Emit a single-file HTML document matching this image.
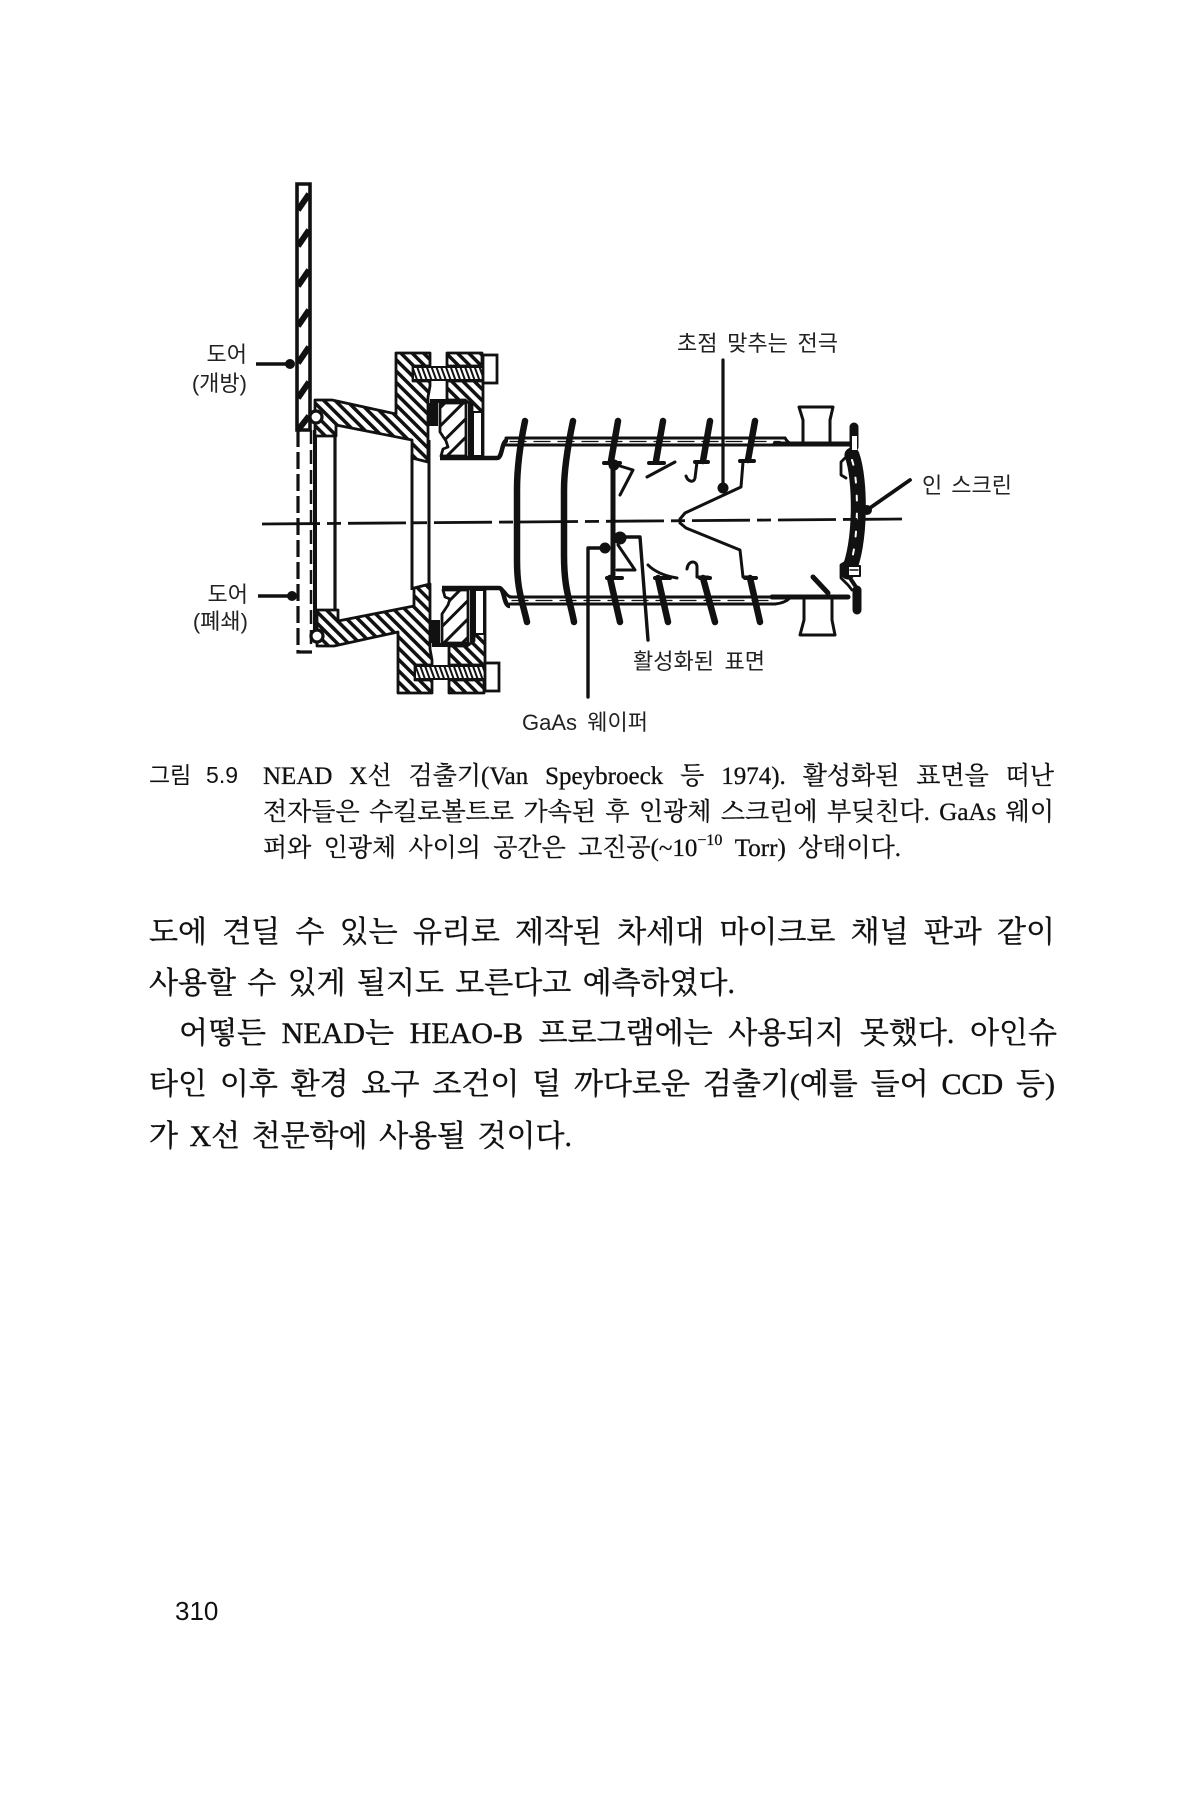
<!DOCTYPE html>
<html lang="ko"><head><meta charset="utf-8">
<style>
html,body{margin:0;padding:0;background:#fff;width:1200px;height:1800px;overflow:hidden}
body{position:relative;color:#111}
svg{position:absolute;left:0;top:0}
.t{position:absolute;text-align:justify;text-align-last:justify;white-space:normal;line-height:1}
.s{font-family:"Liberation Serif","Noto Serif CJK SC",serif}
.c{font-size:25px;left:263px;width:791px;height:26px;-webkit-text-stroke:.3px #111}
.b{font-size:30px;height:32px;-webkit-text-stroke:.4px #111}
.l{font-family:"Liberation Sans","Noto Sans CJK KR",sans-serif;font-size:22px;color:#222}
sup{font-size:16px;line-height:0;vertical-align:11px}
</style></head><body>
<svg width="1200" height="1800" viewBox="0 0 1200 1800" xmlns="http://www.w3.org/2000/svg">
<defs>
<pattern id="h" width="8" height="8" patternUnits="userSpaceOnUse" patternTransform="rotate(-45)"><rect width="3.6" height="8" fill="#111"/><rect x="3.6" width="4.4" height="8" fill="#fff"/></pattern>
<pattern id="hm" width="8" height="8" patternUnits="userSpaceOnUse" patternTransform="rotate(45)"><rect width="3.6" height="8" fill="#111"/><rect x="3.6" width="4.4" height="8" fill="#fff"/></pattern>
<pattern id="hb" width="13" height="13" patternUnits="userSpaceOnUse" patternTransform="rotate(45)"><rect width="3" height="13" fill="#111"/><rect x="3" width="10" height="13" fill="#fff"/></pattern>
<pattern id="hbm" width="13" height="13" patternUnits="userSpaceOnUse" patternTransform="rotate(-45)"><rect width="3" height="13" fill="#111"/><rect x="3" width="10" height="13" fill="#fff"/></pattern>
<pattern id="f" width="4.5" height="4.5" patternUnits="userSpaceOnUse" patternTransform="rotate(-20)"><rect width="2" height="5" fill="#111"/><rect x="2" width="2.5" height="5" fill="#fff"/></pattern>
<pattern id="fm" width="4.5" height="4.5" patternUnits="userSpaceOnUse" patternTransform="rotate(20)"><rect width="2" height="5" fill="#111"/><rect x="2" width="2.5" height="5" fill="#fff"/></pattern>

<g id="fh" stroke="#111" stroke-width="2.8" stroke-linejoin="round">
<path d="M315 400H332L396 414V353H430V366H413V381H430V386L428 397V462L412 458V440L336 425V436H315Z"/>
<path d="M447 353H482V366H447Z"/>
<path d="M447 381H483V456H472V405L465 400H447Z"/>
</g>
<g id="fb" stroke="#111" stroke-width="2.8" stroke-linejoin="round">
<path d="M440 403H466V456H441L443 449L448 447L446 441L440 432Z"/>
</g>
<g id="fbolt"><rect x="413" y="367" width="70" height="13" stroke="#111" stroke-width="2"/></g>
<g id="fk" fill="none" stroke="#111">
<rect x="483" y="355" width="14" height="28" fill="#fff" stroke-width="2.8"/>
<rect x="473" y="412" width="9" height="44" fill="#fff" stroke-width="2"/>
<path d="M430 401H466" stroke-width="4"/>
<rect x="428" y="403" width="10" height="23" fill="#111" stroke="none"/>
<path d="M440 458H497C503 458 501 440 508 440" stroke-width="4.5"/>
<path d="M470 403V457" stroke-width="4"/>
</g>
</defs>

<!-- door -->
<g fill="none" stroke="#111">
<path d="M297 184H310V430H297Z" stroke-width="3.6" fill="#fff"/>
<g stroke-width="6">
<path d="M298 210L309 194M298 246L309 230M298 286L309 270M298 326L309 310M298 363L309 347M298 398L309 382M298 430L309 416"/>
</g>
<path d="M298 430V652H312" stroke-width="3.2" stroke-dasharray="17 5"/>
<path d="M311 430V650" stroke-width="2.5" stroke-dasharray="14 6"/>
<path d="M315 430V640" stroke-width="4"/>
<path d="M335 425V632" stroke-width="3.2"/>
<path d="M412 455V590" stroke-width="3"/>
<path d="M429 440V590" stroke-width="3"/>
</g>

<!-- flange upper/lower -->
<use href="#fh" fill="url(#h)"/>
<use href="#fb" fill="url(#hb)"/>
<use href="#fbolt" fill="url(#f)"/>
<use href="#fk"/>
<use href="#fh" fill="url(#hm)" transform="translate(2,1046) scale(1,-1)"/>
<use href="#fb" fill="url(#hbm)" transform="translate(2,1046) scale(1,-1)"/>
<use href="#fbolt" fill="url(#fm)" transform="translate(2,1046) scale(1,-1)"/>
<use href="#fk" transform="translate(2,1046) scale(1,-1)"/>
<circle cx="316" cy="417" r="6" fill="#fff" stroke="#111" stroke-width="3.2"/>
<circle cx="317" cy="636" r="6" fill="#fff" stroke="#111" stroke-width="3.2"/>

<!-- tube -->
<g fill="none" stroke="#111" stroke-linecap="round" stroke-linejoin="round">
<path d="M506 438H785" stroke-width="3"/>
<path d="M506 445H775" stroke-width="3"/>
<path d="M510 441.5H780" stroke-width="1.2" stroke-dasharray="16 8"/>
<path d="M775 444H850" stroke-width="5"/>
<path d="M785 438Q788 443 792 444" stroke-width="3"/>
<path d="M510 597H775" stroke-width="3"/>
<path d="M510 604H775" stroke-width="3"/>
<path d="M512 600.5H775" stroke-width="1.2" stroke-dasharray="16 8"/>
<path d="M772 597H848" stroke-width="5"/>
<path d="M775 604Q785 603 790 598" stroke-width="3"/>
<path d="M497 588C506 588 505 597 512 597" stroke-width="3"/>
<!-- rings -->
<g stroke-width="6.5">
<path d="M525 421C520 445 517 470 517 490V560C517 590 522 600 527 622"/>
<path d="M573 421C568 445 564 470 564 490V555C564 590 570 600 574 622"/>
<path d="M618 421L611 461"/>
<path d="M663 421L656 461"/>
<path d="M710 421L703 461"/>
<path d="M755 421L748 460"/>
<path d="M610 578L620 622"/>
<path d="M658 578L668 622"/>
<path d="M703 578L715 622"/>
<path d="M750 578L760 622"/>
</g>
<path d="M613 462V575" stroke-width="5"/>
<g stroke-width="4">
<path d="M604 463H620M649 463H664M695 462H708M740 461H754M607 578H622M655 578H670M700 578H710M745 578H756"/>
</g>
<!-- inner -->
<g stroke-width="3">
<path d="M620 466L633 470L620 495"/>
<path d="M647 477L675 462"/>
<path d="M697 462L695 478C694 483 688 482 686 476"/>
<path d="M743 462L741 487L685 513L680 519"/>
<path d="M680 523L686 528L740 550L743 577H750"/>
<path d="M618 545L635 570H617"/>
<path d="M648 565C655 572 665 576 677 578"/>
<path d="M687 569C688 560 697 560 697 567V577H708"/>
<path d="M813 577L828 593" stroke-width="5"/>
<path d="M620 537H640L648 640" stroke-width="3.4"/>
<path d="M605 548H588V697" stroke-width="3.4"/>
<path d="M723 360V487" stroke-width="3.2"/>
<path d="M910 480L867 510" stroke-width="3.8"/>
</g>
<!-- handles -->
<g stroke-width="3">
<path d="M803 442V420L799 407H833L830 420V442"/>
<path d="M804 600V620L800 635H835L832 620V597"/>
</g>
<!-- screen -->
<path d="M854 427V447" stroke-width="9"/>
<path d="M857 590V610" stroke-width="9"/>
<path d="M848 575L858 590" stroke-width="4"/>
<path d="M852 455C861 480 861 545 848 572" stroke-width="15"/>
<path d="M852 460C859 480 859 545 849 568" stroke-width="2" stroke="#fff" stroke-dasharray="5 13"/>
<path d="M848 455L841 462V475L846 478" stroke-width="2.8"/>
<path d="M846 562L841 565V578L848 585L852 590" stroke-width="2.8"/>
<rect x="848" y="566" width="12" height="10" fill="#fff" stroke-width="2"/>
<path d="M850 570H858" stroke-width="1.5"/>
<rect x="852" y="436" width="5" height="14" fill="#fff" stroke="none"/>
</g>
<g fill="#111">
<circle cx="723" cy="488" r="5.5"/><circle cx="620" cy="538" r="6.5"/><circle cx="605" cy="548" r="5.5"/><circle cx="867" cy="510" r="5"/>
<circle cx="614" cy="465" r="5.5"/><circle cx="290" cy="364" r="5"/><circle cx="292" cy="596" r="5"/>
</g>
<g fill="none" stroke="#111" stroke-width="3.6"><path d="M256 364H292"/><path d="M258 596H294"/></g>
<path d="M262 524L902 519" fill="none" stroke="#111" stroke-width="2.8" stroke-dasharray="58 7 14 7"/>
</svg>

<!-- labels -->
<div class="t l" style="left:677px;top:333px;width:161px">초점 맞추는 전극</div>
<div class="t l" style="left:922px;top:475px;width:90px">인 스크린</div>
<div class="t l" style="left:633px;top:651px;width:132px">활성화된 표면</div>
<div class="t l" style="left:522px;top:712px;width:126px">GaAs 웨이퍼</div>
<div class="t l" style="left:205px;top:344px;width:42px;text-align-last:right">도어</div>
<div class="t l" style="left:185px;top:373px;width:62px;text-align-last:right">(개방)</div>
<div class="t l" style="left:205px;top:584px;width:43px;text-align-last:right">도어</div>
<div class="t l" style="left:186px;top:611px;width:62px;text-align-last:right">(폐쇄)</div>

<!-- caption -->
<div class="t" style="left:149px;top:764px;width:89px;font-size:23px;font-family:'Liberation Sans','Noto Sans CJK KR',sans-serif">그림 5.9</div>
<div class="t s c" style="top:764px">NEAD X선 검출기(Van Speybroeck 등 1974). 활성화된 표면을 떠난</div>
<div class="t s c" style="top:800px">전자들은 수킬로볼트로 가속된 후 인광체 스크린에 부딪친다. GaAs 웨이</div>
<div class="t s c" style="top:836px;width:638px">퍼와 인광체 사이의 공간은 고진공(~10<sup>−10</sup> Torr) 상태이다.</div>

<!-- body -->
<div class="t s b" style="left:149px;top:918px;width:906px">도에 견딜 수 있는 유리로 제작된 차세대 마이크로 채널 판과 같이</div>
<div class="t s b" style="left:149px;top:969px;width:586px">사용할 수 있게 될지도 모른다고 예측하였다.</div>
<div class="t s b" style="left:179px;top:1019px;width:878px">어떻든 NEAD는 HEAO-B 프로그램에는 사용되지 못했다. 아인슈</div>
<div class="t s b" style="left:149px;top:1070px;width:906px">타인 이후 환경 요구 조건이 덜 까다로운 검출기(예를 들어 CCD 등)</div>
<div class="t s b" style="left:149px;top:1122px;width:423px">가 X선 천문학에 사용될 것이다.</div>

<div class="t" style="left:175px;top:1598px;width:44px;font-size:26px;font-family:'Liberation Sans',sans-serif;text-align-last:left">310</div>
</body></html>
